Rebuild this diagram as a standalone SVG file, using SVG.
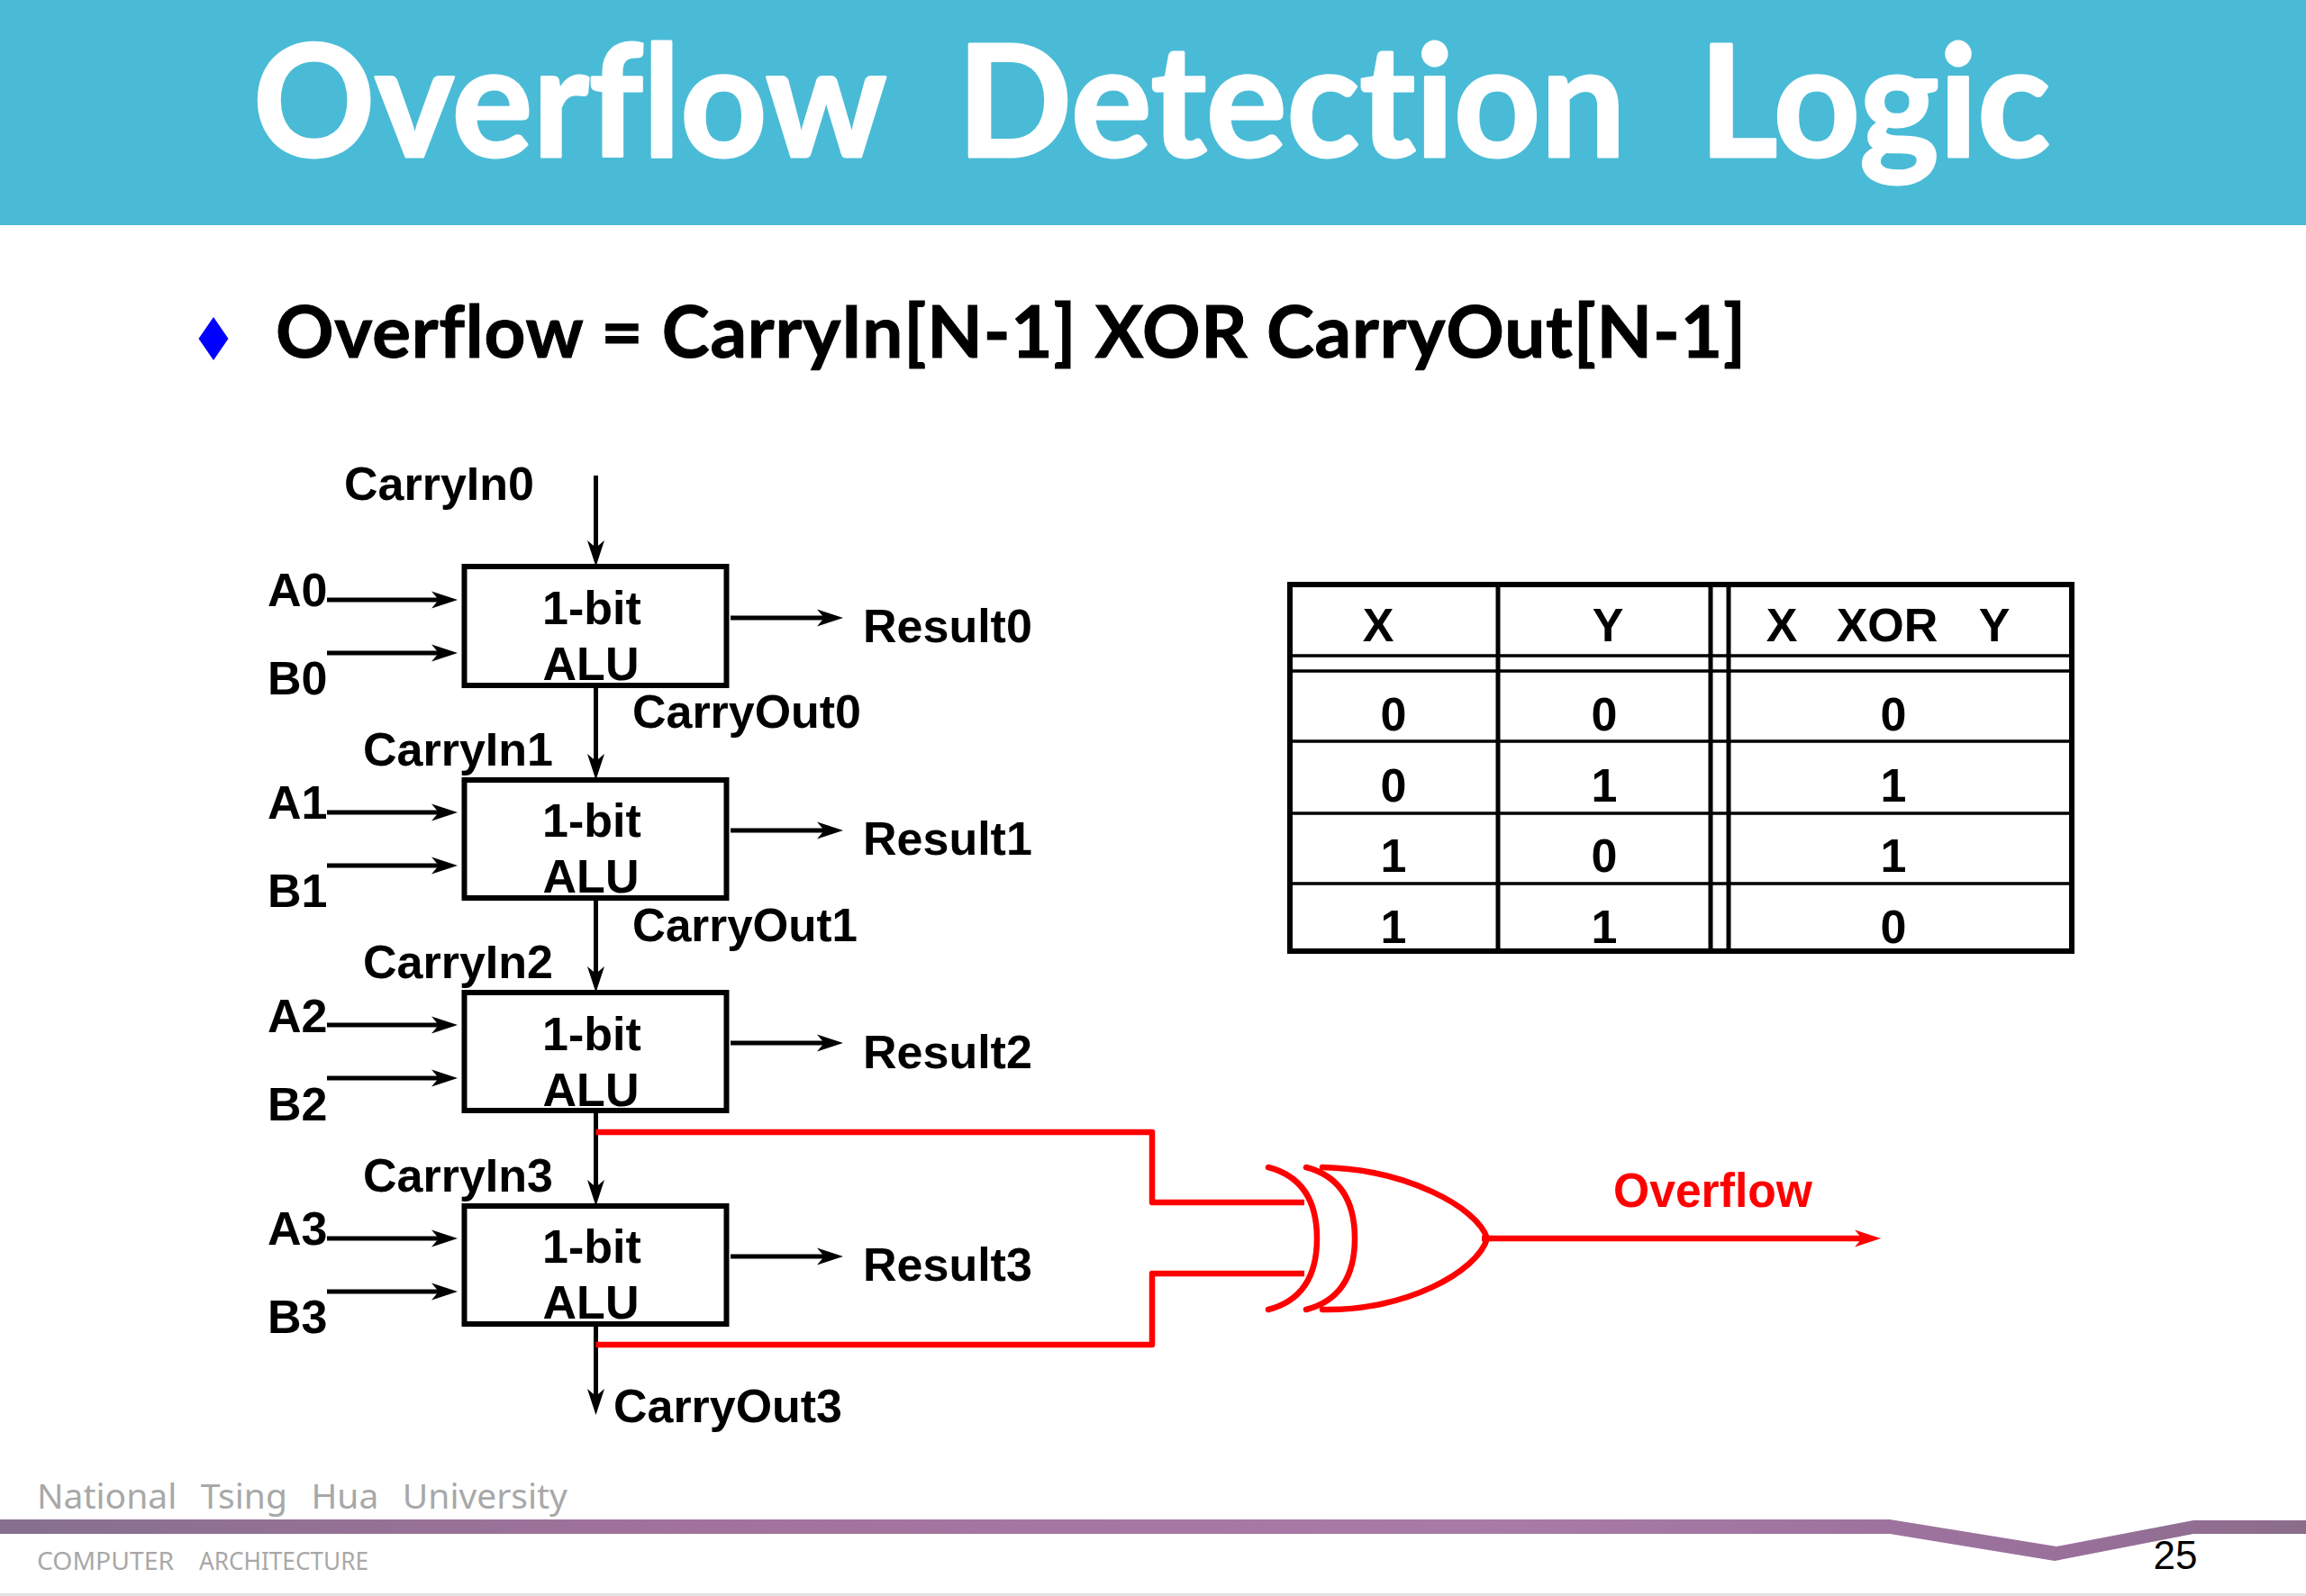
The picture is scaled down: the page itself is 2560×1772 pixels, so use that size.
<svg xmlns="http://www.w3.org/2000/svg" width="2560" height="1772" viewBox="0 0 2560 1772">
<style>
text{font-family:"Liberation Sans",Arial,sans-serif;font-variant-ligatures:none}
.l{font-size:52px;font-weight:700;fill:#000}
.m{text-anchor:middle}
.box{fill:#fff;stroke:#000;stroke-width:6}
.w{fill:none;stroke:#000;stroke-width:5}
.r{fill:none;stroke:#f00;stroke-width:6.500;stroke-linejoin:round}
.rg{fill:none;stroke:#f00;stroke-width:6.500;stroke-linecap:round}
.t1{stroke:#000;stroke-width:6;fill:none}
.t2{stroke:#000;stroke-width:3.500;fill:none}
.f{fill:#a8a8a8;font-family:"Noto Sans","Open Sans",sans-serif}
</style>
<defs>
<marker id="ah" markerUnits="userSpaceOnUse" markerWidth="32" markerHeight="22" viewBox="0 -11 30 22" refX="8" refY="0" orient="auto"><path d="M0,-9.500L29,0L0,9.500L8,0z" fill="#000"/></marker>
<marker id="ahr" markerUnits="userSpaceOnUse" markerWidth="32" markerHeight="22" viewBox="0 -11 30 22" refX="8" refY="0" orient="auto"><path d="M0,-9.500L29,0L0,9.500L8,0z" fill="#f00"/></marker>
<linearGradient id="band" x1="0" x2="1" y1="0" y2="0"><stop offset="0" stop-color="#86708f"/><stop offset=".3" stop-color="#a2729c"/><stop offset=".65" stop-color="#a87ba6"/><stop offset=".9" stop-color="#98709a"/><stop offset="1" stop-color="#8b6c8a"/></linearGradient>
</defs>
<rect width="2560" height="1772" fill="#fff"/>
<g id="header">
<rect width="2560" height="250" fill="#4abbd6"/>
<text x="281" y="174" font-size="172" font-weight="700" fill="#fff" stroke="#fff" stroke-width="3" stroke-linejoin="round" word-spacing="42" style="font-family:Lato,'Open Sans',sans-serif" textLength="1995" lengthAdjust="spacingAndGlyphs">Overflow Detection Logic</text>
</g>
<g id="bullet">
<polygon points="237,352 253.500,376 237,400 220.500,376" fill="#00f"/>
<text x="306" y="397" font-size="80" font-weight="700" fill="#000" stroke="#000" stroke-width="1" style="font-family:Lato,'Open Sans',sans-serif" textLength="1632" lengthAdjust="spacing">Overflow = CarryIn[N-1] XOR CarryOut[N-1]</text>
</g>
<g id="connectors">
<path class="w" marker-end="url(#ah)" d="M661.500,528V608"/>
<path class="w" marker-end="url(#ah)" d="M363,666H487"/>
<path class="w" marker-end="url(#ah)" d="M363,725H487"/>
<path class="w" marker-end="url(#ah)" d="M811,686H915"/>
<path class="w" marker-end="url(#ah)" d="M661.500,761V845"/>
<path class="w" marker-end="url(#ah)" d="M363,902H487"/>
<path class="w" marker-end="url(#ah)" d="M363,961H487"/>
<path class="w" marker-end="url(#ah)" d="M811,922H915"/>
<path class="w" marker-end="url(#ah)" d="M661.500,998V1081"/>
<path class="w" marker-end="url(#ah)" d="M363,1138H487"/>
<path class="w" marker-end="url(#ah)" d="M363,1197H487"/>
<path class="w" marker-end="url(#ah)" d="M811,1158H915"/>
<path class="w" marker-end="url(#ah)" d="M661.500,1234V1318"/>
<path class="w" marker-end="url(#ah)" d="M363,1375H487"/>
<path class="w" marker-end="url(#ah)" d="M363,1434H487"/>
<path class="w" marker-end="url(#ah)" d="M811,1395H915"/>
<path class="w" marker-end="url(#ah)" d="M661.500,1471V1550"/>
<path class="r" d="M661.500,1257H1279V1335H1448"/>
<path class="r" d="M661.500,1493H1279V1414H1448"/>
<path class="r" marker-end="url(#ahr)" d="M1645,1375H2067"/>
</g>
<g id="alu0"><rect class="box" x="515.500" y="629" width="291" height="132"/><text class="l m" x="657" y="693">1-bit</text><text class="l m" x="656" y="755">ALU</text></g>
<g id="alu1"><rect class="box" x="515.500" y="866" width="291" height="131"/><text class="l m" x="657" y="929">1-bit</text><text class="l m" x="656" y="991">ALU</text></g>
<g id="alu2"><rect class="box" x="515.500" y="1102" width="291" height="131"/><text class="l m" x="657" y="1166">1-bit</text><text class="l m" x="656" y="1228">ALU</text></g>
<g id="alu3"><rect class="box" x="515.500" y="1339" width="291" height="131"/><text class="l m" x="657" y="1402">1-bit</text><text class="l m" x="656" y="1464">ALU</text></g>
<g id="labels">
<text class="l" x="382" y="555">CarryIn0</text>
<text class="l" x="297" y="673">A0</text><text class="l" x="297" y="771">B0</text>
<text class="l" x="958" y="713">Result0</text><text class="l" x="702" y="808" textLength="254" lengthAdjust="spacingAndGlyphs">CarryOut0</text>
<text class="l" x="403" y="850">CarryIn1</text>
<text class="l" x="297" y="909">A1</text><text class="l" x="297" y="1007">B1</text>
<text class="l" x="958" y="949">Result1</text><text class="l" x="702" y="1045" textLength="250" lengthAdjust="spacingAndGlyphs">CarryOut1</text>
<text class="l" x="403" y="1086">CarryIn2</text>
<text class="l" x="297" y="1146">A2</text><text class="l" x="297" y="1244">B2</text>
<text class="l" x="958" y="1186">Result2</text>
<text class="l" x="403" y="1323">CarryIn3</text>
<text class="l" x="297" y="1382">A3</text><text class="l" x="297" y="1480">B3</text>
<text class="l" x="958" y="1422">Result3</text><text class="l" x="681" y="1579" textLength="254" lengthAdjust="spacingAndGlyphs">CarryOut3</text>
</g>
<g id="xor-gate">
<path class="rg" d="M1408,1296Q1462,1310 1462,1375T1408,1454"/>
<path class="rg" d="M1450,1296Q1504,1310 1504,1375T1450,1454"/>
<path class="rg" d="M1468,1296C1560,1298 1640,1340 1651,1375C1640,1412 1560,1456 1468,1454"/>
</g>
<text id="overflow-label" x="1791" y="1340" font-size="53" font-weight="700" fill="#f00" textLength="221" lengthAdjust="spacingAndGlyphs">Overflow</text>
<g id="truth-table">
<rect class="t1" x="1432" y="649" width="868" height="407"/>
<path class="t1" style="stroke-width:5" d="M1663,649V1056M1899,649V1056M1919,649V1056"/>
<path class="t2" d="M1432,728H2300M1432,745H2300M1432,823H2300M1432,903H2300M1432,981H2300"/>
<text class="l m" x="1530" y="712">X</text><text class="l m" x="1785" y="712">Y</text><text class="l m" x="1978" y="712">X</text><text class="l m" x="2095" y="712">XOR</text><text class="l m" x="2214" y="712">Y</text>
<text class="l m" x="1547" y="811">0</text><text class="l m" x="1781" y="811">0</text><text class="l m" x="2102" y="811">0</text>
<text class="l m" x="1547" y="890">0</text><text class="l m" x="1781" y="890">1</text><text class="l m" x="2102" y="890">1</text>
<text class="l m" x="1547" y="968">1</text><text class="l m" x="1781" y="968">0</text><text class="l m" x="2102" y="968">1</text>
<text class="l m" x="1547" y="1047">1</text><text class="l m" x="1781" y="1047">1</text><text class="l m" x="2102" y="1047">0</text>
</g>
<g id="footer">
<path d="M0,1687H2098L2283,1717L2435,1688H2560V1703H2435L2281,1733L2098,1703H0z" fill="url(#band)"/>
<text class="f" x="41" y="1675" font-size="38" textLength="589" lengthAdjust="spacingAndGlyphs" word-spacing="16">National Tsing Hua University</text>
<text class="f" x="41" y="1743" font-size="27" textLength="152" lengthAdjust="spacingAndGlyphs">COMPUTER</text>
<text class="f" x="221" y="1743" font-size="27" textLength="188" lengthAdjust="spacingAndGlyphs">ARCHITECTURE</text>
<text x="2415" y="1742" font-size="44" fill="#000" text-anchor="middle">25</text>
<rect y="1769" width="2560" height="3" fill="#e2e2e2"/>
</g>
</svg>
